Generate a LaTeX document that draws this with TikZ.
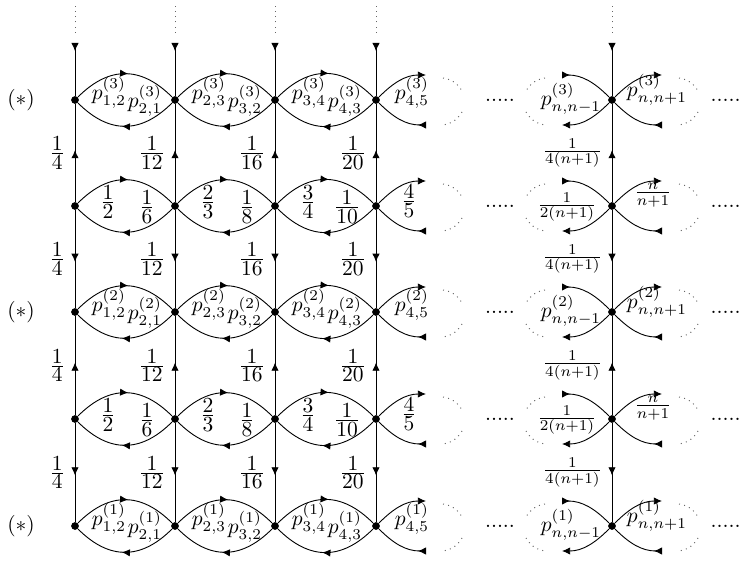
\documentclass[tikz,border=0pt]{standalone}
\usepackage{amssymb, amsfonts, amsmath}
\usetikzlibrary{arrows.meta,decorations.markings,calc}
\newcommand{\nfr}[2]{\frac{\textstyle #1}{\textstyle #2}}
\tikzset{head/.tip={Latex[length=3.8pt,width=3.4pt]}}

\begin{document}
\begin{tikzpicture}[x=0.465pt, y=0.465pt, line width=0.42pt,
    dot/.style={circle, fill, inner sep=0pt, minimum size=3.6pt},
    midhead/.style={postaction={decorate},
      decoration={markings, mark=at position 0.53 with {\arrow{head}}}},
    lens/.style={looseness=1.2, midhead},
    faint/.style={dotted, line width=0.45pt, black!60},
    ]
\useasboundingbox (0,0) rectangle (742,561);

% states: rows 3, a, 2, b, 1 from top to bottom
\foreach \r/\y in {1/35, b/142, 2/249, a/355, 3/461}
  \foreach \c/\x in {1/75, 2/175, 3/275, 4/376, n/612}
    \node[dot] (v\r-\c) at (\x,\y) {};

% horizontal moves
\foreach \r in {1,b,2,a,3} {
  \foreach \k/\j in {1/2, 2/3, 3/4} {
    \draw[lens] (v\r-\k) to[out=45,in=135] (v\r-\j);
    \draw[lens] (v\r-\j) to[out=-135,in=-45] (v\r-\k);
  }
  \coordinate (c\r-4a) at ($(v\r-4)+(50,25)$);
  \coordinate (c\r-4b) at ($(v\r-4)+(50,-25)$);
  \coordinate (c\r-na) at ($(v\r-n)+(-50,25)$);
  \coordinate (c\r-nb) at ($(v\r-n)+(-50,-25)$);
  \coordinate (c\r-nc) at ($(v\r-n)+(50,25)$);
  \coordinate (c\r-nd) at ($(v\r-n)+(50,-25)$);
  \draw[-{head}] (v\r-4) to[out=45,in=180] (c\r-4a);
  \draw[-{head[reversed]}] (v\r-4) to[out=-45,in=180] (c\r-4b);
  \draw[-{head[reversed]}] (v\r-n) to[out=135,in=0] (c\r-na);
  \draw[-{head}] (v\r-n) to[out=-135,in=0] (c\r-nb);
  \draw[-{head}] (v\r-n) to[out=45,in=180] (c\r-nc);
  \draw[-{head[reversed]}] (v\r-n) to[out=-45,in=180] (c\r-nd);
  % the rest of the chain
  \draw[faint] ($(v\r-4)+(67,22)$) to[bend left=25] ($(v\r-4)+(86,9)$);
  \draw[faint] ($(v\r-4)+(86,-12)$) to[bend left=25] ($(v\r-4)+(67,-25)$);
  \draw[faint] ($(v\r-n)+(-67,22)$) to[bend right=25] ($(v\r-n)+(-86,9)$);
  \draw[faint] ($(v\r-n)+(-86,-12)$) to[bend right=25] ($(v\r-n)+(-67,-25)$);
  \draw[faint] ($(v\r-n)+(67,22)$) to[bend left=25] ($(v\r-n)+(86,9)$);
  \draw[faint] ($(v\r-n)+(86,-12)$) to[bend left=25] ($(v\r-n)+(67,-25)$);
  \node[anchor=base] (m\r) at ($(v\r-4)+(124,-2)$) {.....};
  \node[anchor=base east, inner sep=0pt] (e\r) at ($(v\r-n)+(129,-2)$) {.....};
}

% vertical moves
\foreach \c/\lab in {1/{\nfr{1}{4}}, 2/{\nfr{1}{12}}, 3/{\nfr{1}{16}},
                     4/{\nfr{1}{20}}, n/{\frac{1}{4(n+1)}}} {
  \draw[midhead] (va-\c) -- node[left=1pt] {$\lab$} (v3-\c);
  \draw[midhead] (va-\c) -- node[left=1pt] {$\lab$} (v2-\c);
  \draw[midhead] (vb-\c) -- node[left=1pt] {$\lab$} (v2-\c);
  \draw[midhead] (vb-\c) -- node[left=1pt] {$\lab$} (v1-\c);
  \coordinate (t\c) at ($(v3-\c)+(0,57)$);
  \draw[-{head[reversed]}] (v3-\c) -- (t\c);
  \draw[faint] ($(t\c)+(0,10)$) -- ($(t\c)+(0,39)$);
}

% labels of the starred rows
\foreach \r in {1,2,3} {
  \node (s\r) at ($(v\r-1)+(-54,0)$) {$(*)$};
  \foreach \k/\j in {1/2, 2/3, 3/4} {
    \node (p\r-\k\j) at ($(v\r-\k)+(34,7)$) {$p^{(\r)}_{\k,\j}$};
    \node (p\r-\j\k) at ($(v\r-\k)+(70,-1)$) {$p^{(\r)}_{\j,\k}$};
  }
  \node (p\r-45) at ($(v\r-4)+(36,7)$) {$p^{(\r)}_{4,5}$};
  \node (p\r-nl) at ($(v\r-n)+(-41,1)$) {$p^{(\r)}_{n,n-1}$};
  \node (p\r-nr) at ($(v\r-n)+(45,10)$) {$p^{(\r)}_{n,n+1}$};
}

% labels of the rows in between
\foreach \r in {a,b} {
  \foreach \k/\pu/\pd in {1/{\nfr{1}{2}}/{\nfr{1}{6}}, 2/{\nfr{2}{3}}/{\nfr{1}{8}},
                          3/{\nfr{3}{4}}/{\nfr{1}{10}}} {
    \node (q\r-\k u) at ($(v\r-\k)+(33,4)$) {$\pu$};
    \node (q\r-\k d) at ($(v\r-\k)+(72,-1)$) {$\pd$};
  }
  \node (q\r-4u) at ($(v\r-4)+(33,5)$) {$\nfr{4}{5}$};
  \node (q\r-nl) at ($(v\r-n)+(-45,-1)$) {$\frac{1}{2(n+1)}$};
  \node (q\r-nr) at ($(v\r-n)+(41,11)$) {$\frac{n}{n+1}$};
}
\end{tikzpicture}
\end{document}
